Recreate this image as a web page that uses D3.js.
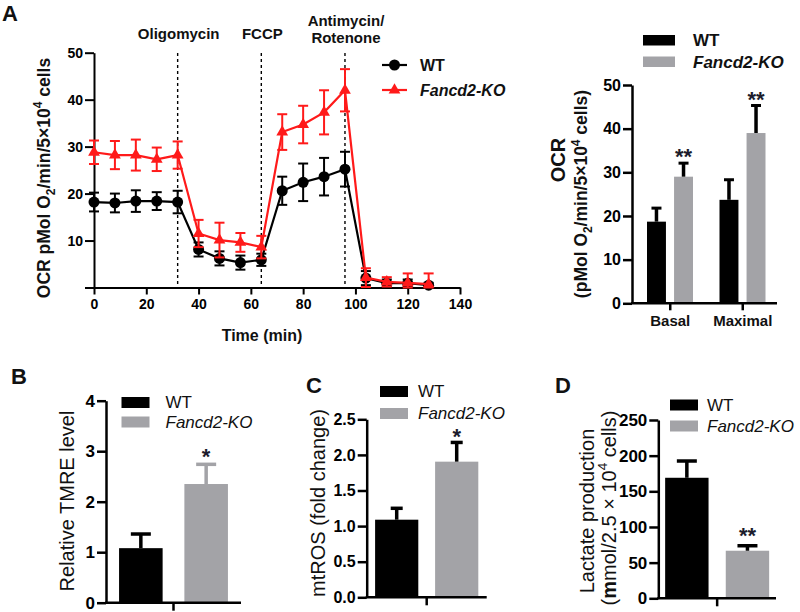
<!DOCTYPE html>
<html><head><meta charset="utf-8">
<script src="https://cdn.jsdelivr.net/npm/d3@7"></script>
<style>
body{margin:0;background:#fff}
svg{display:block;font-family:"Liberation Sans",Arial,sans-serif}
</style></head><body>
<svg id="c" width="800" height="612"></svg>
<script>
// ---------- DATA ----------
// Panel A (left): OCR time course
const timeMin = [0, 8, 16, 24, 32, 40, 48, 56, 64, 72, 80, 88, 96, 104, 112, 120, 128];
const wtOCR   = [18.2, 18.0, 18.4, 18.4, 18.2, 8.1, 6.2, 5.3, 5.9, 20.6, 22.4, 23.6, 25.2, 2.0, 0.9, 0.9, 0.5];
const wtOCRErr= [2.0, 2.0, 2.3, 1.9, 2.4, 1.5, 1.5, 1.5, 1.3, 3.0, 4.0, 4.0, 3.7, 1.5, 0.8, 0.8, 0.5];
const koOCR   = [28.8, 28.2, 28.2, 27.3, 28.2, 11.5, 10.1, 9.6, 8.6, 33.1, 34.7, 37.3, 42.0, 2.1, 1.2, 1.0, 0.7];
const koOCRErr= [2.5, 3.0, 3.3, 2.5, 2.9, 2.9, 3.7, 2.0, 2.4, 3.8, 4.0, 4.7, 4.5, 2.0, 1.0, 2.0, 2.3];
const injectionTimes  = [32, 64, 96];
const injectionLabels = [["Oligomycin"], ["FCCP"], ["Antimycin/", "Rotenone"]];
const lineYTicks = [0, 10, 20, 30, 40, 50];
const lineXTicks = [0, 20, 40, 60, 80, 100, 120, 140];
const seriesNames = ["WT", "Fancd2-KO"];

// Panel A (right): Basal / Maximal OCR
const ocrGroups = ["Basal", "Maximal"];
const ocrWT    = [18.7, 23.7];
const ocrWTErr = [3.1, 4.6];
const ocrKO    = [29.0, 39.0];
const ocrKOErr = [3.1, 6.3];
const ocrSig   = ["**", "**"];
const ocrTicks = [0, 10, 20, 30, 40, 50];

// Panel B: TMRE
const tmreValues = [1.08, 2.35];
const tmreErr    = [0.28, 0.39];
const tmreTicks  = [0, 1, 2, 3, 4];
// Panel C: mtROS
const mtrosValues = [1.09, 1.905];
const mtrosErr    = [0.16, 0.27];
const mtrosTicks  = [0, 0.5, 1.0, 1.5, 2.0, 2.5];
// Panel D: lactate
const lactateValues = [169, 66.7];
const lactateErr    = [23.5, 7];
const lactateTicks  = [0, 50, 100, 150, 200, 250];

// ---------- STYLE ----------
const RED = "#ff1a1a", BLACK = "#000", GRAY = "#a3a3a7", STAR = "#1c1c2c";
const FONT = "'Liberation Sans', Arial, sans-serif";
const svg = d3.select("#c");
svg.append("rect").attr("width", 800).attr("height", 612).attr("fill", "#fff");

function styleAxis(g, sw, fs, fw) {
  g.attr("font-family", FONT).attr("font-size", fs).attr("font-weight", fw);
  g.select(".domain").attr("stroke", "#000").attr("stroke-width", sw);
  g.selectAll(".tick line").attr("stroke", "#000").attr("stroke-width", sw);
  g.selectAll(".tick text").attr("fill", "#000");
}

// rich text helper: parts = [[text, "n"|"sub"|"sup"|"b"], ...]
function richText(g, parts, size) {
  const t = g.append("text").attr("font-size", size);
  let shift = 0;
  parts.forEach(([s, kind]) => {
    const ts = t.append("tspan").text(s);
    let target = 0;
    if (kind === "sub") { target = size * 0.3; ts.attr("font-size", size * 0.68); }
    if (kind === "sup") { target = -size * 0.42; ts.attr("font-size", size * 0.68); }
    if (kind === "b") ts.attr("font-weight", "bold");
    ts.attr("dy", target - shift);
    shift = target;
  });
  return t;
}

// ---------- PANEL LABELS ----------
[["A", 2, 21], ["B", 11, 384], ["C", 306, 393], ["D", 555, 393]].forEach(([l, x, y]) => {
  svg.append("text").attr("x", x).attr("y", y).attr("font-size", 22).attr("font-weight", "bold")
    .attr("fill", "#111").attr("font-family", FONT).text(l);
});

// ---------- PANEL A LEFT: line chart ----------
(function () {
  const x = d3.scaleLinear().domain([0, 140]).range([94, 460]);
  const y = d3.scaleLinear().domain([0, 50]).range([287.5, 52.7]);
  const g = svg.append("g");

  injectionTimes.forEach((t, i) => {
    g.append("line").attr("x1", x(t)).attr("x2", x(t)).attr("y1", 53).attr("y2", y(0))
      .attr("stroke", "#000").attr("stroke-width", 1.4).attr("stroke-dasharray", "3,3");
    const lines = injectionLabels[i];
    const base = lines.length === 1 ? [39] : [26, 43];
    lines.forEach((s, j) => {
      g.append("text").attr("x", x(t) + 1).attr("y", base[j]).attr("text-anchor", "middle")
        .attr("font-size", 15).attr("font-weight", "bold").attr("fill", "#111")
        .attr("font-family", FONT).text(s);
    });
  });

  const ya = g.append("g").attr("transform", `translate(${x(0)},0)`)
    .call(d3.axisLeft(y).tickValues(lineYTicks).tickFormat(d => d === 0 ? "" : d).tickSize(9).tickSizeOuter(0).tickPadding(2));
  styleAxis(ya, 2, 14, "bold");
  const xa = g.append("g").attr("transform", `translate(0,${y(0)})`)
    .call(d3.axisBottom(x).tickValues(lineXTicks).tickSize(7).tickSizeOuter(0).tickPadding(5));
  styleAxis(xa, 2, 14, "bold");

  function series(vals, errs, color, sym) {
    const s = g.append("g");
    vals.forEach((v, i) => {
      const cx = x(timeMin[i]);
      const y1 = y(v + errs[i]), y2 = y(Math.max(0, v - errs[i]));
      s.append("line").attr("x1", cx).attr("x2", cx).attr("y1", y1).attr("y2", y2).attr("stroke", color).attr("stroke-width", 2);
      [y1, y2].forEach(yy => s.append("line").attr("x1", cx - 5).attr("x2", cx + 5).attr("y1", yy).attr("y2", yy)
        .attr("stroke", color).attr("stroke-width", 2));
    });
    s.append("path").datum(vals)
      .attr("d", d3.line().x((d, i) => x(timeMin[i])).y(d => y(d)))
      .attr("fill", "none").attr("stroke", color).attr("stroke-width", 2.2);
    vals.forEach((v, i) => {
      s.append("path").attr("d", d3.symbol(sym, sym === d3.symbolCircle ? 95 : 60)())
        .attr("transform", `translate(${x(timeMin[i])},${y(v)})`).attr("fill", color);
    });
  }
  series(wtOCR, wtOCRErr, BLACK, d3.symbolCircle);
  series(koOCR, koOCRErr, RED, d3.symbolTriangle);

  const lg = g.append("g");
  [[BLACK, d3.symbolCircle, 65], [RED, d3.symbolTriangle, 90]].forEach(([c, sym, yy], i) => {
    lg.append("line").attr("x1", 382).attr("x2", 407).attr("y1", yy).attr("y2", yy).attr("stroke", c).attr("stroke-width", 2.2);
    lg.append("path").attr("d", d3.symbol(sym, sym === d3.symbolCircle ? 95 : 60)()).attr("transform", `translate(394.5,${yy})`).attr("fill", c);
    lg.append("text").attr("x", 420).attr("y", yy + 6).attr("font-size", 16).attr("font-weight", "bold")
      .attr("font-style", i ? "italic" : "normal").attr("font-family", FONT).attr("fill", "#111").text(seriesNames[i]);
  });

  const yl = g.append("g").attr("transform", "translate(49.5,178) rotate(-90)")
    .attr("font-family", FONT).attr("font-weight", "bold").attr("fill", "#111");
  richText(yl, [["OCR pMol O", "n"], ["2", "sub"], ["/min/5×10", "n"], ["4", "sup"], [" cells", "n"]], 17.5)
    .attr("text-anchor", "middle");
  g.append("text").attr("x", 262).attr("y", 341).attr("text-anchor", "middle").attr("font-size", 16)
    .attr("font-weight", "bold").attr("font-family", FONT).attr("fill", "#111").text("Time (min)");
})();

// ---------- PANEL A RIGHT: grouped bar ----------
(function () {
  const y = d3.scaleLinear().domain([0, 50]).range([303.3, 85]);
  const x0 = d3.scaleBand().domain(ocrGroups).range([634, 779]).padding(0);
  const x1 = d3.scaleBand().domain(seriesNames).range([13, 59]).paddingInner(0.3);
  const g = svg.append("g");
  const axX = 632;

  ocrGroups.forEach((grp, i) => {
    const data = [[ocrWT[i], ocrWTErr[i], BLACK], [ocrKO[i], ocrKOErr[i], GRAY]];
    data.forEach(([v, e, c], j) => {
      const bx = x0(grp) + x1(seriesNames[j]);
      const bw = x1.bandwidth();
      g.append("rect").attr("x", bx).attr("y", y(v)).attr("width", bw).attr("height", y(0) - y(v)).attr("fill", c);
      const cx = bx + bw / 2;
      g.append("line").attr("x1", cx).attr("x2", cx).attr("y1", y(v)).attr("y2", y(v + e)).attr("stroke", "#000").attr("stroke-width", 3.5);
      g.append("line").attr("x1", cx - 5).attr("x2", cx + 5).attr("y1", y(v + e)).attr("y2", y(v + e)).attr("stroke", "#000").attr("stroke-width", 3);
      if (j === 1) {
        g.append("text").attr("x", cx).attr("y", y(v + e) + 1).attr("text-anchor", "middle")
          .attr("font-size", 22).attr("font-weight", "bold").attr("fill", STAR).attr("font-family", FONT).text(ocrSig[i]);
      }
    });
  });

  const ya = g.append("g").attr("transform", `translate(${axX},0)`)
    .call(d3.axisLeft(y).tickValues(ocrTicks).tickSize(9).tickSizeOuter(0).tickPadding(2));
  styleAxis(ya, 2.5, 16, "bold");
  g.append("line").attr("x1", axX - 1).attr("x2", 777).attr("y1", y(0)).attr("y2", y(0)).attr("stroke", "#000").attr("stroke-width", 2.5);
  ocrGroups.forEach(grp => {
    const cx = x0(grp) + x0.bandwidth() / 2;
    g.append("line").attr("x1", cx).attr("x2", cx).attr("y1", y(0)).attr("y2", y(0) + 7).attr("stroke", "#000").attr("stroke-width", 2.5);
    g.append("text").attr("x", cx).attr("y", 326).attr("text-anchor", "middle").attr("font-size", 15)
      .attr("font-weight", "bold").attr("font-family", FONT).attr("fill", "#111").text(grp);
  });

  [[BLACK, 35], [GRAY, 56.5]].forEach(([c, yy], i) => {
    g.append("rect").attr("x", 643).attr("y", yy).attr("width", 32).attr("height", 10.5).attr("fill", c);
    g.append("text").attr("x", 693).attr("y", yy + 11).attr("font-size", 17).attr("font-weight", "bold")
      .attr("font-style", i ? "italic" : "normal").attr("font-family", FONT).attr("fill", "#111").text(seriesNames[i]);
  });

  g.append("text").attr("transform", "translate(565,160) rotate(-90)").attr("text-anchor", "middle")
    .attr("font-size", 20).attr("font-weight", "bold").attr("font-family", FONT).attr("fill", "#111").text("OCR");
  const yl = g.append("g").attr("transform", "translate(587,194) rotate(-90)")
    .attr("font-family", FONT).attr("font-weight", "bold").attr("fill", "#111");
  richText(yl, [["(pMol O", "n"], ["2", "sub"], ["/min/5×10", "n"], ["4", "sup"], [" cells)", "n"]], 17.5)
    .attr("text-anchor", "middle");
})();

// ---------- BOTTOM BAR PANELS ----------
function barPanel(o) {
  const y = d3.scaleLinear().domain([0, o.max]).range([o.bottom, o.top]);
  const x = d3.scaleBand().domain(seriesNames).range(o.xr).paddingInner(o.pi).paddingOuter(o.po);
  const g = svg.append("g");
  const colors = [BLACK, GRAY];
  o.values.forEach((v, i) => {
    const bx = x(seriesNames[i]), bw = x.bandwidth(), cx = bx + bw / 2;
    g.append("rect").attr("x", bx).attr("y", y(v)).attr("width", bw).attr("height", y(0) - y(v)).attr("fill", colors[i]);
    const ec = o.errColors[i];
    const ye = y(v + o.errs[i]);
    g.append("line").attr("x1", cx).attr("x2", cx).attr("y1", y(v)).attr("y2", ye).attr("stroke", ec).attr("stroke-width", 3.5);
    g.append("line").attr("x1", cx - o.cap / 2).attr("x2", cx + o.cap / 2).attr("y1", ye).attr("y2", ye).attr("stroke", ec).attr("stroke-width", 3.5);
    if (i === 1) {
      g.append("text").attr("x", cx).attr("y", ye + o.sigDy).attr("text-anchor", "middle")
        .attr("font-size", 22).attr("font-weight", "bold").attr("fill", STAR).attr("font-family", FONT).text(o.sig);
    }
  });
  const ya = g.append("g").attr("transform", `translate(${o.xr[0]},0)`)
    .call(d3.axisLeft(y).tickValues(o.ticks).tickFormat(o.fmt).tickSize(9).tickSizeOuter(0).tickPadding(2));
  styleAxis(ya, 2.5, o.tfs, "bold");
  g.append("line").attr("x1", o.xr[0] - 1).attr("x2", o.xr[1]).attr("y1", y(0)).attr("y2", y(0)).attr("stroke", "#000").attr("stroke-width", 2.5);
  const mid = (x(seriesNames[0]) + x(seriesNames[1]) + x.bandwidth()) / 2;
  g.append("line").attr("x1", mid).attr("x2", mid).attr("y1", y(0)).attr("y2", y(0) + 8).attr("stroke", "#000").attr("stroke-width", 2.5);

  o.legY.forEach((yy, i) => {
    g.append("rect").attr("x", o.legX).attr("y", yy).attr("width", 28).attr("height", 11).attr("fill", colors[i]);
    g.append("text").attr("x", o.legX + o.legGap).attr("y", yy + 11).attr("font-size", 17)
      .attr("font-style", i ? "italic" : "normal").attr("font-family", FONT).attr("fill", "#111").text(seriesNames[i]);
  });
  o.ylab.forEach(([parts, bx, cy]) => {
    const yl = g.append("g").attr("transform", `translate(${bx},${cy}) rotate(-90)`)
      .attr("font-family", FONT).attr("fill", "#111");
    richText(yl, parts, 20).attr("text-anchor", "middle");
  });
}

barPanel({
  max: 4, bottom: 602.7, top: 400.7, xr: [106, 241], pi: 0.333, po: 0.2,
  values: tmreValues, errs: tmreErr, errColors: [BLACK, GRAY], cap: 20, sig: "*", sigDy: 0,
  ticks: tmreTicks, fmt: d3.format("d"), tfs: 17,
  legX: 121.5, legGap: 44, legY: [397, 416.5],
  ylab: [[[["Relative TMRE level", "n"]], 74, 501]]
});
barPanel({
  max: 2.5, bottom: 597.3, top: 419.3, xr: [366.7, 486.7], pi: 0.28, po: 0.14,
  values: mtrosValues, errs: mtrosErr, errColors: [BLACK, BLACK], cap: 12, sig: "*", sigDy: 2,
  ticks: mtrosTicks, fmt: d3.format(".1f"), tfs: 16,
  legX: 380, legGap: 38, legY: [386, 408],
  ylab: [[[["mtROS (fold change)", "n"]], 325, 503]]
});
barPanel({
  max: 250, bottom: 598.3, top: 420, xr: [658.3, 776], pi: 0.284, po: 0.113,
  values: lactateValues, errs: lactateErr, errColors: [BLACK, BLACK], cap: 20, sig: "**", sigDy: -3,
  ticks: lactateTicks, fmt: d3.format("d"), tfs: 17,
  legX: 670, legGap: 37, legY: [399.5, 420.5],
  ylab: [[[["Lactate production", "n"]], 594, 511],
         [[["(", "n"], ["m", "b"], ["mol/2.5 × 10", "n"], ["4", "sup"], [" cells)", "n"]], 615.5, 508]]
});
</script>
</body></html>
